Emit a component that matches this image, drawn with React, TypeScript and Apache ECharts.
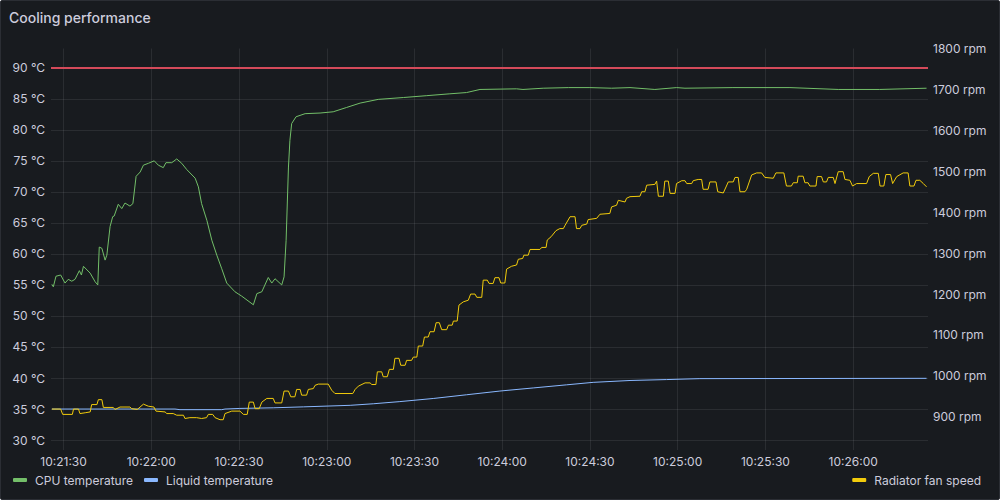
import React, { useEffect, useRef } from "react";
import * as echarts from "echarts";

// time values are seconds relative to 10:21:30
const timeBase = "10:21:30";
const timeTicks = [0, 30, 60, 90, 120, 150, 180, 210, 240, 270];
const tempTicks = [30, 35, 40, 45, 50, 55, 60, 65, 70, 75, 80, 85, 90];
const rpmTicks = [900, 1000, 1100, 1200, 1300, 1400, 1500, 1600, 1700, 1800];
const seriesNames = ["CPU temperature", "Liquid temperature", "Radiator fan speed"];
const thresholdTemp = 90;

const cpuTemperature: [number, number][] = [
  [-4.0, 55.1], [-3.5, 54.7], [-2.6, 56.4], [-1.0, 56.6], [0.5, 55.3], [1.6, 55.9], [2.8, 55.6],
  [3.9, 55.9], [5.4, 57.3], [6.1, 56.6], [6.8, 58.0], [9.1, 56.9], [10.8, 55.5], [11.7, 55.0],
  [12.2, 61.1], [13.1, 60.9], [14.2, 59.0], [14.8, 59.8], [15.9, 64.4], [16.8, 66.0], [17.3, 66.1],
  [18.7, 68.0], [19.9, 67.3], [21.0, 68.2], [22.7, 67.7], [23.7, 68.1], [24.8, 72.5], [26.2, 73.2],
  [27.3, 74.3], [29.0, 74.6], [31.0, 75.0], [32.4, 74.3], [34.1, 73.9], [35.0, 74.7], [37.0, 74.7],
  [38.7, 75.3], [40.4, 74.6], [42.1, 73.6], [45.0, 72.2], [46.1, 70.8], [47.2, 68.1], [49.0, 65.4],
  [50.7, 62.2], [52.4, 59.8], [54.1, 57.6], [55.8, 55.3], [58.6, 53.9], [60.9, 53.2], [64.9, 51.8],
  [66.1, 53.6], [67.8, 53.9], [70.0, 56.2], [71.2, 55.3], [72.3, 56.0], [74.6, 55.0], [75.4, 56.3],
  [76.1, 62.2], [76.9, 74.0], [77.4, 78.3], [78.0, 81.0], [79.5, 82.1], [82.6, 82.6], [87.7, 82.7],
  [92.2, 82.9], [96.8, 83.6], [101.4, 84.3], [107.6, 84.9], [116.2, 85.2], [124.2, 85.5],
  [132.1, 85.8], [137.8, 86.0], [142.4, 86.5], [154.9, 86.6], [157.1, 86.5], [164.0, 86.7],
  [172.6, 86.8], [180.0, 86.8], [187.4, 86.7], [193.7, 86.8], [202.2, 86.5], [209.6, 86.8],
  [212.5, 86.7], [228.9, 86.8], [248.4, 86.8], [264.9, 86.5], [279.1, 86.5], [295.1, 86.7],
];

const liquidTemperature: [number, number][] = [
  [-4.0, 35.0], [38.1, 35.0], [39.8, 34.9], [54.1, 34.9], [55.2, 35.0], [60.3, 35.1], [71.7, 35.2],
  [82.0, 35.35], [98.0, 35.6], [105.9, 35.85], [115.0, 36.2], [126.4, 36.7], [137.8, 37.3],
  [149.2, 37.9], [160.6, 38.4], [172.0, 38.9], [181.1, 39.3], [193.7, 39.6], [206.2, 39.75],
  [217.6, 39.9], [295.1, 39.95],
];

const radiatorFanSpeed: [number, number][] = [
  [-4.0, 919], [-1.0, 919], [-0.3, 906], [3.0, 906], [3.4, 919], [5.1, 919], [5.6, 908], [7.4, 910],
  [9.1, 912], [9.6, 930], [11.4, 930], [11.9, 942], [13.1, 942], [13.6, 923], [17.0, 923], [17.6, 918],
  [19.3, 924], [22.7, 924], [23.3, 920], [25.2, 918], [27.3, 931], [29.0, 926], [30.9, 924], [31.6, 914],
  [34.7, 912], [35.3, 908], [37.5, 908], [38.7, 904], [41.0, 904], [41.5, 896], [43.2, 898], [45.5, 898],
  [47.2, 896], [48.9, 898], [49.5, 906], [51.0, 906], [51.8, 898], [53.5, 893], [54.6, 893], [55.2, 908],
  [57.5, 914], [60.3, 914], [61.5, 906], [62.8, 906], [63.5, 936], [64.9, 936], [65.5, 920], [66.9, 920],
  [67.8, 936], [69.5, 945], [71.7, 945], [72.3, 934], [74.6, 934], [75.4, 963], [76.9, 963], [77.7, 949],
  [79.1, 949], [79.7, 967], [80.9, 967], [81.4, 953], [83.1, 953], [83.7, 967], [85.4, 969], [86.0, 977],
  [87.1, 980], [90.5, 980], [91.7, 965], [92.8, 957], [98.9, 957], [99.7, 967], [100.8, 975],
  [103.1, 983], [104.8, 983], [105.4, 979], [106.8, 979], [107.3, 1010], [108.8, 1010], [109.3, 998],
  [110.7, 998], [111.4, 1016], [112.8, 1016], [113.3, 1043], [114.7, 1043], [115.3, 1026], [116.8, 1026],
  [117.3, 1038], [119.0, 1038], [119.6, 1046], [120.8, 1046], [121.3, 1073], [122.8, 1073], [123.4, 1095],
  [124.7, 1095], [125.3, 1108], [126.7, 1108], [127.4, 1130], [128.5, 1130], [129.3, 1113], [131.0, 1113],
  [131.6, 1124], [132.9, 1124], [133.3, 1134], [134.6, 1134], [135.2, 1173], [136.7, 1181], [138.4, 1185],
  [139.2, 1200], [140.7, 1200], [141.3, 1192], [143.0, 1192], [143.5, 1234], [144.9, 1234], [145.5, 1226],
  [146.9, 1226], [147.5, 1240], [148.9, 1240], [149.5, 1227], [150.9, 1227], [151.5, 1261], [153.2, 1268],
  [154.9, 1271], [155.5, 1285], [157.0, 1287], [157.4, 1295], [158.9, 1295], [159.5, 1309], [162.9, 1309],
  [163.5, 1314], [165.0, 1314], [165.4, 1332], [166.7, 1340], [168.4, 1355], [169.7, 1360], [170.9, 1360],
  [171.5, 1368], [173.2, 1389], [174.9, 1389], [175.4, 1360], [176.6, 1360], [177.2, 1368], [178.9, 1371],
  [179.4, 1382], [182.3, 1385], [183.4, 1395], [186.8, 1397], [187.4, 1413], [189.1, 1417], [189.7, 1429],
  [192.0, 1425], [192.5, 1434], [193.7, 1438], [197.1, 1439], [197.7, 1450], [198.8, 1450], [199.4, 1466],
  [202.2, 1468], [202.8, 1476], [203.4, 1439], [205.1, 1439], [205.6, 1476], [206.8, 1476], [207.4, 1446],
  [209.1, 1446], [209.6, 1470], [211.4, 1477], [212.5, 1477], [213.1, 1470], [214.8, 1470], [215.3, 1477],
  [217.0, 1480], [218.2, 1480], [218.7, 1456], [220.4, 1456], [221.0, 1474], [223.1, 1474], [223.7, 1450],
  [225.6, 1447], [227.3, 1474], [229.0, 1474], [229.6, 1485], [230.7, 1485], [231.3, 1450], [233.0, 1450],
  [233.6, 1456], [235.3, 1491], [237.0, 1496], [238.7, 1496], [239.8, 1485], [242.7, 1483], [243.6, 1496],
  [246.3, 1496], [247.2, 1464], [248.9, 1464], [249.5, 1472], [250.9, 1472], [251.2, 1488], [252.9, 1488],
  [253.5, 1472], [254.6, 1472], [255.2, 1464], [257.3, 1464], [257.7, 1487], [259.2, 1487], [259.8, 1474],
  [260.9, 1474], [261.5, 1485], [263.2, 1485], [263.8, 1470], [264.9, 1499], [266.6, 1499], [267.2, 1480],
  [268.9, 1478], [269.8, 1464], [271.2, 1470], [274.6, 1470], [275.5, 1487], [276.9, 1495], [278.6, 1495],
  [279.2, 1464], [280.5, 1464], [281.2, 1492], [282.8, 1492], [283.5, 1470], [284.9, 1487], [287.1, 1496],
  [288.8, 1496], [289.4, 1464], [290.8, 1464], [291.5, 1478], [292.8, 1478], [294.0, 1470], [295.1, 1462],
];

const textColor = "rgb(204, 204, 220)";
const gridColor = "rgba(204, 204, 220, 0.1)";
const font = "Inter";

function formatTime(offset: number): string {
  const [h, m, s] = timeBase.split(":").map(Number);
  const total = h * 3600 + m * 60 + s + Math.round(offset);
  const hh = Math.floor(total / 3600);
  const mm = Math.floor((total % 3600) / 60);
  const ss = total % 60;
  const p = (n: number) => String(n).padStart(2, "0");
  return `${p(hh)}:${p(mm)}:${p(ss)}`;
}

export default function App() {
  const ref = useRef<HTMLDivElement>(null);
  useEffect(() => {
    const chart = echarts.init(ref.current!, null, { renderer: "svg" });
    chart.setOption({
      animation: false,
      backgroundColor: "#181b1f",
      textStyle: { fontFamily: font },
      title: {
        text: "Cooling performance",
        left: 8,
        top: 9,
        padding: 0,
        textStyle: { color: textColor, fontSize: 14, fontWeight: 500, fontFamily: font },
      },
      grid: { left: 50, right: 71, top: 47.5, bottom: 49, containLabel: false },
      legend: [
        {
          data: [seriesNames[0], seriesNames[1]],
          left: 12,
          top: 473,
          padding: 0,
          icon: "roundRect",
          itemWidth: 14,
          itemHeight: 4,
          itemGap: 11,
          textStyle: { color: textColor, fontSize: 12, fontFamily: font, padding: [0, 0, 0, 3] },
          selectedMode: false,
        },
        {
          data: [seriesNames[2]],
          right: 18,
          top: 473,
          padding: 0,
          icon: "roundRect",
          itemWidth: 14,
          itemHeight: 4,
          textStyle: { color: textColor, fontSize: 12, fontFamily: font, padding: [0, 0, 0, 3] },
          selectedMode: false,
        },
      ],
      xAxis: {
        type: "value",
        min: -4.3,
        max: 295.6,
        axisLine: { show: false },
        axisTick: { show: false, customValues: timeTicks },
        splitLine: { show: true, lineStyle: { color: gridColor, width: 1 } },
        axisLabel: {
          customValues: timeTicks,
          color: textColor,
          fontSize: 12,
          fontFamily: font,
          margin: 5,
          formatter: (v: number) => formatTime(v),
        },
      },
      yAxis: [
        {
          type: "value",
          min: 28.4,
          max: 93.1,
          position: "left",
          axisLine: { show: false },
          axisTick: { show: false, customValues: tempTicks },
          splitLine: { show: true, lineStyle: { color: gridColor, width: 1 } },
          axisLabel: {
            customValues: tempTicks,
            color: textColor,
            fontSize: 12,
            fontFamily: font,
            margin: 6,
            formatter: (v: number) => `${v} °C`,
          },
        },
        {
          type: "value",
          min: 819,
          max: 1800,
          position: "right",
          axisLine: { show: false },
          axisTick: { show: false, customValues: rpmTicks },
          splitLine: { show: false },
          axisLabel: {
            customValues: rpmTicks,
            color: textColor,
            fontSize: 12,
            fontFamily: font,
            margin: 5,
            formatter: (v: number) => `${v} rpm`,
          },
        },
      ],
      series: [
        {
          name: seriesNames[0],
          type: "line",
          yAxisIndex: 0,
          data: cpuTemperature,
          showSymbol: false,
          symbol: "none",
          color: "#73BF69",
          lineStyle: { width: 1, color: "#73BF69" },
          markLine: {
            silent: true,
            symbol: "none",
            label: { show: false },
            lineStyle: { color: "#d44a5a", width: 2, type: "solid" },
            data: [{ yAxis: thresholdTemp }],
          },
        },
        {
          name: seriesNames[1],
          type: "line",
          yAxisIndex: 0,
          data: liquidTemperature,
          showSymbol: false,
          symbol: "none",
          color: "#8AB8FF",
          lineStyle: { width: 1, color: "#8AB8FF" },
        },
        {
          name: seriesNames[2],
          type: "line",
          yAxisIndex: 1,
          data: radiatorFanSpeed,
          showSymbol: false,
          symbol: "none",
          color: "#F2CC0C",
          lineStyle: { width: 1, color: "#F2CC0C" },
        },
      ],
    });
    return () => chart.dispose();
  }, []);

  return (
    <div
      style={{
        position: "fixed",
        left: 0,
        top: 0,
        width: 1000,
        height: 500,
        boxSizing: "border-box",
        border: "1px solid #2b2e34",
        borderRadius: 2,
        background: "#181b1f",
        overflow: "hidden",
      }}
    >
      <div ref={ref} style={{ width: 998, height: 498 }} />
    </div>
  );
}
